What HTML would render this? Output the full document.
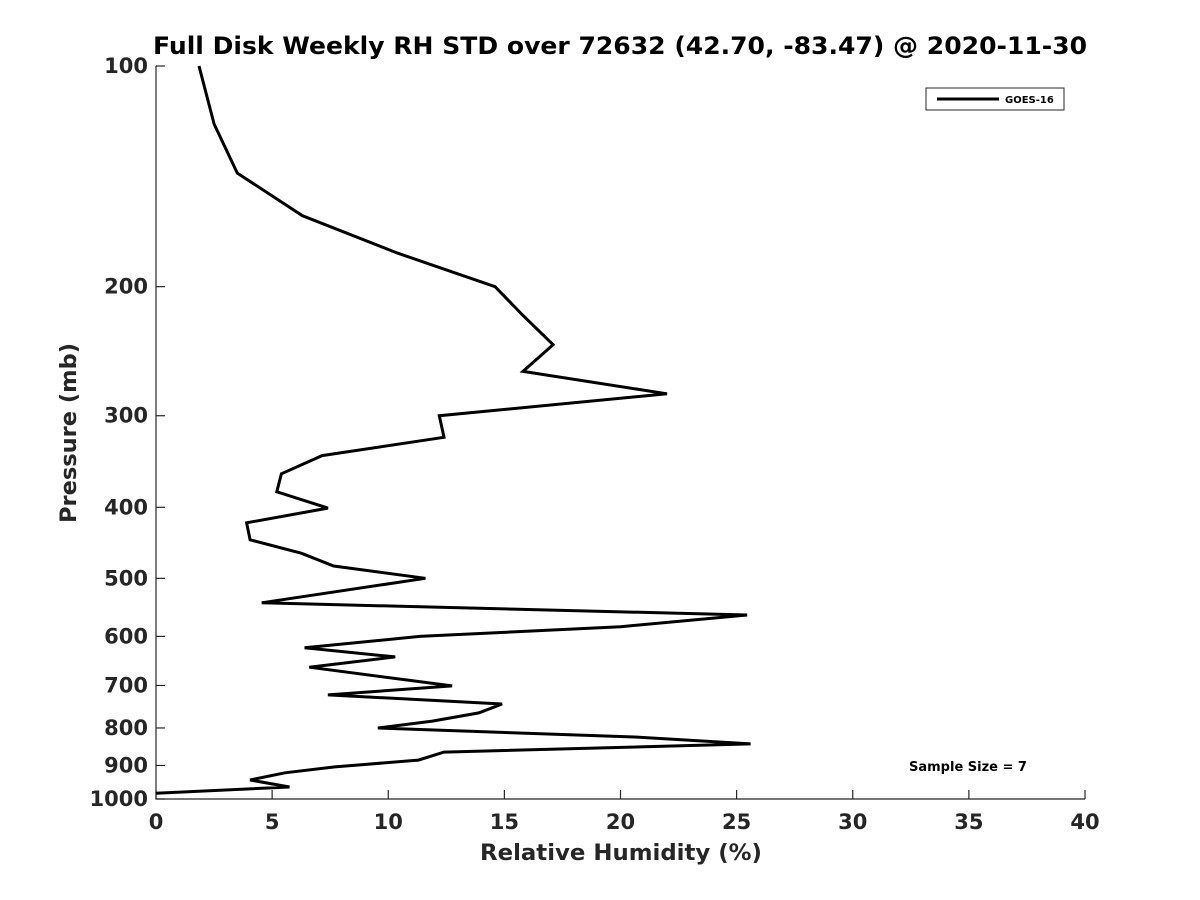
<!DOCTYPE html>
<html><head><meta charset="utf-8">
<style>
html,body{margin:0;padding:0;background:#fff;}
svg{display:block;font-family:"DejaVu Sans","Liberation Sans",sans-serif;}
</style></head>
<body>
<svg id="chart" width="1200" height="900">
</svg>
<script>
const rhValues = [1.85,2.5,3.5,6.3,10.4,14.6,15.8,17.1,15.8,22.0,12.2,12.4,7.15,5.4,5.2,7.4,3.9,4.05,6.25,7.65,11.6,4.55,25.45,20.0,11.35,6.4,10.3,6.6,12.75,7.4,14.9,13.9,11.9,9.55,20.6,25.6,12.4,11.3,7.7,5.55,4.05,5.75,0];
const pressures = [100,120,140,160,180,200,219,240,261,280,300,321,340,360,381,401,420,443,462,481,500,540,561,582,600,622,640,661,701,721,742,763,783,800,823,841,863,885,904,921,942,963,982];
const xTicks = [0,5,10,15,20,25,30,35,40];
const yTicks = [100,200,300,400,500,600,700,800,900,1000];

const NS="http://www.w3.org/2000/svg";
const svg=document.getElementById('chart');
const X0=156,X1=1085,Y0=66,Y1=799;
const xs=v=>X0+(v-0)/(40-0)*(X1-X0);
const ys=p=>Y0+Math.log10(p/100)*(Y1-Y0);
function mk(tag,attrs,txt){const e=document.createElementNS(NS,tag);for(const k in attrs)e.setAttribute(k,attrs[k]);if(txt!==undefined)e.textContent=txt;svg.appendChild(e);return e;}

let t=mk('text',{x:153,y:54,'font-size':'24','font-weight':'bold',fill:'#000',textLength:934,lengthAdjust:'spacingAndGlyphs'},'Full Disk Weekly RH STD over 72632 (42.70, -83.47) @ 2020-11-30');



let ax=mk('path',{d:`M${X0},${Y0}V${Y1}H${X1}`,stroke:'#262626','stroke-width':1.2,fill:'none'});



xTicks.forEach(v=>{
  const x=xs(v);
  const tk=mk('line',{x1:x,x2:x,y1:Y1,y2:Y1-9,stroke:'#262626','stroke-width':1.2});
  
  
  const l=mk('text',{x:x,y:Y1+30,'text-anchor':'middle','font-size':'21','font-weight':'bold',fill:'#262626'},String(v));
  
  
});
yTicks.forEach(p=>{
  const y=ys(p);
  const tk=mk('line',{x1:X0,x2:X0+9,y1:y,y2:y,stroke:'#262626','stroke-width':1.2});
  
  
  const l=mk('text',{x:X0-8,y:y+7,'text-anchor':'end','font-size':'21','font-weight':'bold',fill:'#262626'},String(p));
  
  
});

let xt=mk('text',{x:480,y:860,'font-size':'22','font-weight':'bold',fill:'#262626',textLength:282,lengthAdjust:'spacingAndGlyphs'},'Relative Humidity (%)');


let yt=mk('text',{x:0,y:0,'font-size':'22','font-weight':'bold',fill:'#262626',textLength:180,lengthAdjust:'spacingAndGlyphs',transform:'translate(76,523) rotate(-90)'},'Pressure (mb)');



let d=rhValues.map((v,i)=>(i?'L':'M')+xs(v).toFixed(1)+','+ys(pressures[i]).toFixed(1)).join('');
let line=mk('path',{d:d,stroke:'#000','stroke-width':3,fill:'none','stroke-linejoin':'miter'});



let lb=mk('rect',{x:926,y:88,width:138,height:22,fill:'#fff',stroke:'#262626','stroke-width':1});


let ll=mk('line',{x1:937,x2:999,y1:99,y2:99,stroke:'#000','stroke-width':3});


let lt=mk('text',{x:1005,y:103,'font-size':'10','font-weight':'bold',fill:'#000'},'GOES-16');



let ss=mk('text',{x:968,y:771,'text-anchor':'middle','font-size':'13','font-weight':'bold',fill:'#000'},'Sample Size = 7');


</script>
</body></html>
